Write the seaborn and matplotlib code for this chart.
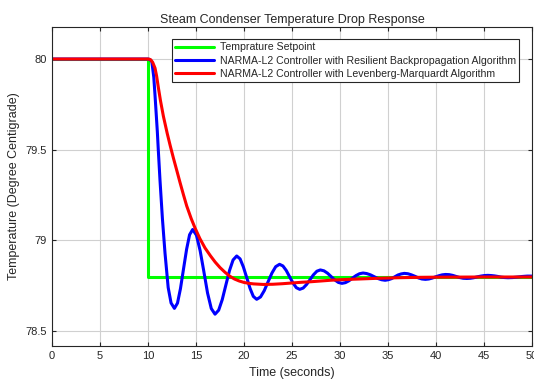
import numpy as np
import pandas as pd
import seaborn as sns
import matplotlib.pyplot as plt

# setpoint step
setpoint_t = [0, 10, 10, 50]
setpoint_v = [80.0, 80.0, 78.8, 78.8]

# NARMA-L2 with resilient backpropagation
rp_t = [0, 10.0, 10.2, 10.4, 10.6, 10.73, 10.85, 10.97, 11.07, 11.25, 11.5, 11.77, 12.1, 12.4, 12.75,
        13.07, 13.38, 13.70, 14.02, 14.33, 14.65,
        15.04, 15.43, 15.82, 16.20, 16.59, 16.98,
        17.36, 17.73, 18.11, 18.49, 18.86, 19.24,
        19.59, 19.93, 20.28, 20.63, 20.97, 21.32,
        21.72, 22.11, 22.51, 22.91, 23.30, 23.70,
        24.05, 24.40, 24.75, 25.10, 25.45, 25.80,
        26.16, 26.52, 26.88, 27.23, 27.59, 27.95,
        28.33, 28.70, 29.08, 29.45, 29.83, 30.20,
        30.57, 30.93, 31.30, 31.67, 32.03, 32.40,
        32.78, 33.17, 33.55, 33.93, 34.32, 34.70,
        35.03, 35.37, 35.70, 36.03, 36.37, 36.70,
        37.07, 37.43, 37.80, 38.17, 38.53, 38.90,
        39.25, 39.60, 39.95, 40.30, 40.65, 41.00,
        41.37, 41.73, 42.10, 42.47, 42.83, 43.20,
        43.57, 43.93, 44.30, 44.67, 45.03, 45.40,
        45.75, 46.10, 46.45, 46.80, 47.15, 47.50,
        48.0, 48.5, 49.0, 49.5, 50.0]
rp_v = [80.0, 80.0, 79.997, 79.985, 79.90, 79.80, 79.70, 79.60, 79.50, 79.33, 79.12, 78.93, 78.74, 78.655, 78.625,
        78.654, 78.734, 78.843, 78.951, 79.031, 79.060,
        79.029, 78.943, 78.827, 78.710, 78.624, 78.593,
        78.615, 78.673, 78.754, 78.834, 78.892, 78.914,
        78.898, 78.854, 78.795, 78.735, 78.691, 78.675,
        78.688, 78.723, 78.772, 78.820, 78.855, 78.868,
        78.859, 78.834, 78.799, 78.765, 78.739, 78.730,
        78.737, 78.757, 78.784, 78.810, 78.830, 78.837,
        78.832, 78.819, 78.800, 78.782, 78.768, 78.763,
        78.767, 78.777, 78.792, 78.806, 78.816, 78.820,
        78.817, 78.810, 78.800, 78.790, 78.783, 78.780,
        78.783, 78.789, 78.799, 78.809, 78.815, 78.818,
        78.816, 78.810, 78.802, 78.793, 78.787, 78.785,
        78.787, 78.792, 78.799, 78.805, 78.810, 78.812,
        78.811, 78.807, 78.801, 78.795, 78.791, 78.790,
        78.791, 78.794, 78.799, 78.803, 78.806, 78.807,
        78.806, 78.804, 78.801, 78.797, 78.795, 78.794,
        78.795, 78.798, 78.801, 78.803, 78.803]

# NARMA-L2 with Levenberg-Marquardt
lm_t = [0, 10.0, 10.15, 10.3, 10.5, 10.73, 10.9, 11.07, 11.3, 11.6, 12.0, 12.3, 12.64, 13.0, 13.33, 13.7, 14.03,
        14.5, 14.9, 15.4, 15.94, 16.5, 17.0, 17.5, 18.0, 18.5, 19.0, 19.5, 20.0, 20.5, 21.0,
        22.0, 23.0, 24.0, 25.0, 26.0, 27.0, 28.0, 29.0, 30.0, 32.0, 34.0, 36.0, 38.0, 40.0,
        45.0, 50.0]
lm_v = [80.0, 80.0, 79.999, 79.995, 79.98, 79.95, 79.905, 79.845, 79.77, 79.685, 79.59, 79.525, 79.455, 79.385,
        79.32, 79.25, 79.19,
        79.12, 79.068, 79.01, 78.958, 78.915, 78.88, 78.85, 78.825, 78.803, 78.787, 78.776, 78.768, 78.763, 78.760,
        78.757, 78.758, 78.761, 78.765, 78.769, 78.772, 78.776, 78.780, 78.783, 78.787, 78.791, 78.794, 78.796, 78.797,
        78.798, 78.798]

labels = ['Temprature Setpoint',
          'NARMA-L2 Controller with Resilient Backpropagation Algorithm',
          'NARMA-L2 Controller with Levenberg-Marquardt Algorithm']

sns.set_style('whitegrid')
plt.rcParams['font.family'] = ['Liberation Sans', 'DejaVu Sans']

fig = plt.figure(figsize=(5.34, 3.82), dpi=100)
ax = fig.add_axes([0.0974, 0.094, 0.8989, 0.835])

# estimator=None so the vertical step of the setpoint is kept as drawn
sns.lineplot(x=setpoint_t, y=setpoint_v, sort=False, estimator=None, color='#00ff00', lw=2.2,
             label=labels[0], ax=ax)
sns.lineplot(x=rp_t, y=rp_v, sort=False, estimator=None, color='#0000ff', lw=2.2,
             label=labels[1], ax=ax)
sns.lineplot(x=lm_t, y=lm_v, sort=False, estimator=None, color='#ff0000', lw=2.2,
             label=labels[2], ax=ax)

ax.set_xlim(0, 50)
ax.set_ylim(78.417, 80.176)
ax.set_xticks(range(0, 51, 5))
ax.set_yticks([78.5, 79, 79.5, 80])
ax.set_yticklabels(['78.5', '79', '79.5', '80'])
ax.tick_params(direction='in', length=3, labelsize=8, colors='#262626',
               top=True, right=True, bottom=True, left=True)
ax.grid(True, color='#d0d0d0', lw=0.8)
for s in ax.spines.values():
    s.set_color('#262626')
    s.set_linewidth(0.8)

ax.set_title('Steam Condenser Temperature Drop Response', fontsize=9, pad=3)
ax.set_xlabel('Time (seconds)', fontsize=9, labelpad=4)
ax.set_ylabel('Temperature (Degree Centigrade)', fontsize=9, labelpad=4)

leg = ax.legend(loc='upper right', bbox_to_anchor=(0.973, 0.962), borderaxespad=0,
                fontsize=7.6, handlelength=3.7, frameon=True, fancybox=False,
                edgecolor='#262626', framealpha=1, borderpad=0.3, labelspacing=0.3,
                handletextpad=0.5)
leg.get_frame().set_linewidth(0.8)

fig.savefig('out.png', dpi=100)
